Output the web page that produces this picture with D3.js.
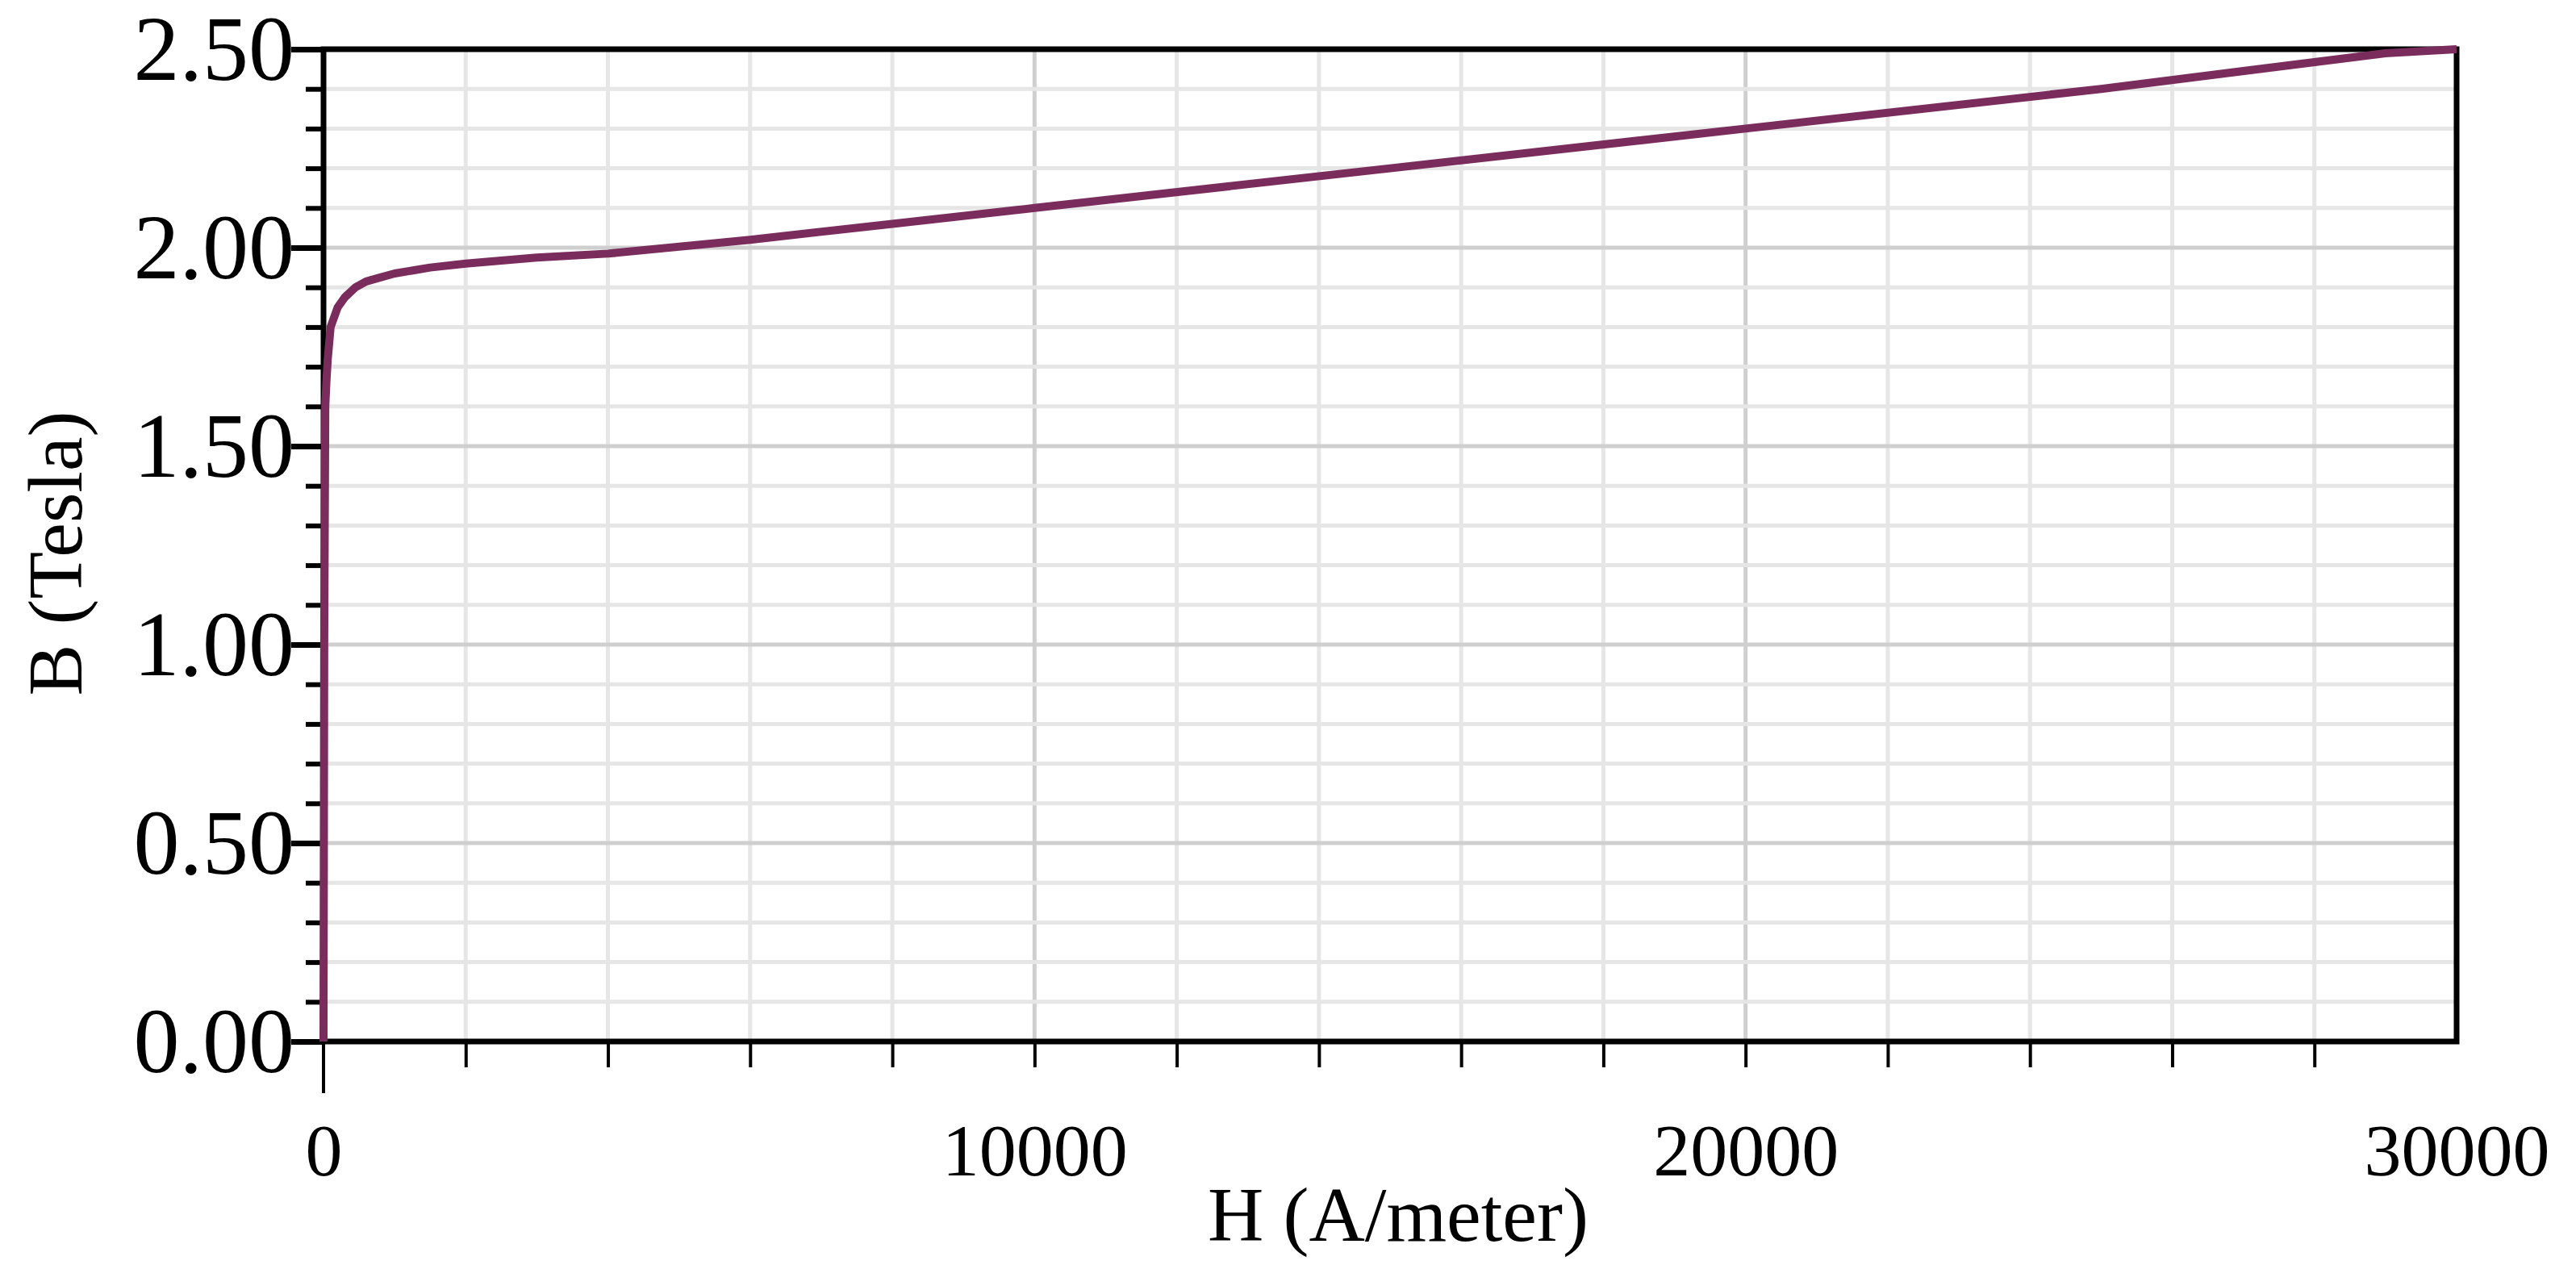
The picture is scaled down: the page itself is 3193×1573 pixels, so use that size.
<!DOCTYPE html>
<meta charset="utf-8">
<head>
  <script src="https://d3js.org/d3.v7.min.js"></script>
  <style>
    body { margin: 0; background: #fff; }
    text { font-family: "Liberation Serif", serif; fill: #000; }
  </style>
</head>
<div id="chart"></div>
<script>
// H (A/m) and B (T)
var hValues = [0, 10, 25, 40, 60, 100, 200, 300, 450, 600, 800, 1000, 1500, 2000, 3000, 4000, 6000, 8000, 10000, 15000, 20000, 25000, 29000, 30000];
var bValues = [0, 1.00, 1.60, 1.66, 1.72, 1.80, 1.85, 1.875, 1.90, 1.915, 1.925, 1.935, 1.95, 1.96, 1.975, 1.985, 2.02, 2.06, 2.10, 2.20, 2.30, 2.40, 2.49, 2.50];
var xTicks = [0, 10000, 20000, 30000];
var yTicks = [0, 0.5, 1.0, 1.5, 2.0, 2.5];

var W = 3193, H = 1573;
var margin = {top: 61, right: 148, bottom: 282, left: 401};
var width = W - margin.left - margin.right,
    height = H - margin.top - margin.bottom;

var svg = d3.select("#chart").append("svg")
    .attr("width", W).attr("height", H)
  .append("g")
    .attr("transform", "translate(" + margin.left + "," + margin.top + ")");

var x = d3.scaleLinear().domain([0, 30000]).range([0, width]);
var y = d3.scaleLinear().domain([0, 2.5]).range([height, 0]);

// grid
var minorX = d3.range(2000, 30000, 2000);
var minorY = d3.range(1, 25).map(function(d) { return d / 10; });
svg.selectAll(".gx").data(minorX).enter().append("line")
  .attr("x1", function(d) { return x(d); }).attr("x2", function(d) { return x(d); })
  .attr("y1", 0).attr("y2", height)
  .attr("stroke", function(d) { return d % 10000 === 0 ? "#cfcfcf" : "#e6e6e6"; })
  .attr("stroke-width", 5);
svg.selectAll(".gy").data(minorY).enter().append("line")
  .attr("x1", 0).attr("x2", width)
  .attr("y1", function(d) { return y(d); }).attr("y2", function(d) { return y(d); })
  .attr("stroke", function(d) { return Math.round(d * 10) % 5 === 0 ? "#cfcfcf" : "#e6e6e6"; })
  .attr("stroke-width", 5);

// minor ticks
svg.append("g").attr("transform", "translate(0," + height + ")")
  .call(d3.axisBottom(x).tickValues(minorX).tickSize(32).tickFormat(""))
  .call(function(g) { g.select(".domain").remove(); g.selectAll("line").attr("stroke-width", 4); });
svg.append("g")
  .call(d3.axisLeft(y).tickValues(minorY).tickSize(22).tickFormat(""))
  .call(function(g) { g.select(".domain").remove(); g.selectAll("line").attr("stroke-width", 6); });

// major ticks + labels
var xAxis = svg.append("g").attr("transform", "translate(0," + height + ")")
  .call(d3.axisBottom(x).tickValues(xTicks).tickSize(0).tickPadding(0).tickFormat(d3.format("d")));
xAxis.select(".domain").remove();
xAxis.selectAll("text").attr("font-size", 92).attr("dy", 0).attr("y", 166);
svg.append("line").attr("x1", 0).attr("x2", 0).attr("y1", height).attr("y2", height + 64)
  .attr("stroke", "#000").attr("stroke-width", 4);

var yAxis = svg.append("g")
  .call(d3.axisLeft(y).tickValues(yTicks).tickSize(40).tickPadding(0).tickFormat(d3.format(".2f")));
yAxis.select(".domain").remove();
yAxis.selectAll("line").attr("stroke-width", 7);
yAxis.selectAll("text").attr("font-size", 114).attr("x", -36).attr("dy", "0.33em");

// frame
svg.append("rect").attr("width", width).attr("height", height)
  .attr("fill", "none").attr("stroke", "#000").attr("stroke-width", 7);

// curve
var pts = d3.zip(hValues, bValues);
svg.append("clipPath").attr("id", "c").append("rect")
  .attr("x", -6).attr("y", -6).attr("width", width + 12).attr("height", height + 6);
svg.append("path").datum(pts)
  .attr("clip-path", "url(#c)")
  .attr("fill", "none").attr("stroke", "#7a2d5c").attr("stroke-width", 10)
  .attr("stroke-linejoin", "round")
  .attr("d", d3.line().x(function(d) { return x(d[0]); }).y(function(d) { return y(d[1]); }));

// axis titles
svg.append("text").attr("x", x(15000) + 10).attr("y", height + 247)
  .attr("text-anchor", "middle").attr("font-size", 96).text("H (A/meter)");
svg.append("text")
  .attr("transform", "translate(-300," + (height / 2 + 10) + ")rotate(-90)")
  .attr("text-anchor", "middle").attr("font-size", 96).text("B (Tesla)");
</script>
